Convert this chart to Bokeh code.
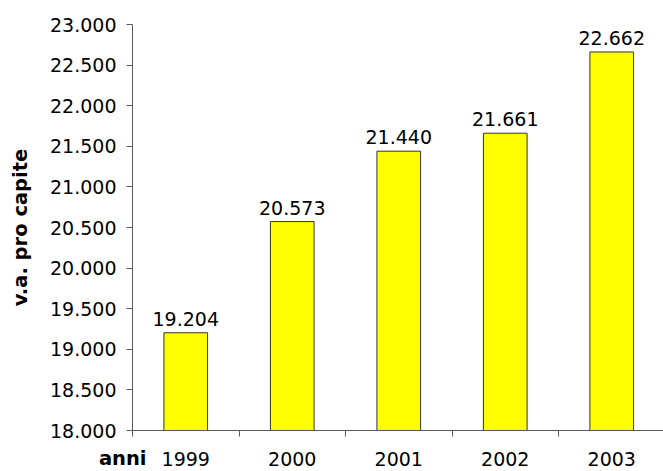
from bokeh.plotting import figure
from bokeh.models import ColumnDataSource, FixedTicker, Label, Range1d
from bokeh.core.properties import value
from bokeh.embed import file_html
from bokeh.resources import INLINE

years = ["1999", "2000", "2001", "2002", "2003"]
values = [19204, 20573, 21440, 21661, 22662]
y_ticks = [18000, 18500, 19000, 19500, 20000, 20500, 21000, 21500, 22000, 22500, 23000]
y_title = "v.a. pro capite"
x_title = "anni"

def fmt(v):
    return f"{v:,}".replace(",", ".")

xs = list(range(len(years)))
src = ColumnDataSource(dict(x=xs, top=values, label=[fmt(v) for v in values]))

FONT = "DejaVu Sans"
AXIS_COL = "#5a5a5a"

p = figure(width=663, height=471, output_backend="svg", toolbar_location=None,
           x_range=Range1d(-0.5, -0.5 + 531 / 106.5), y_range=Range1d(18000, 23000),
           min_border_left=132, min_border_right=0, min_border_top=24, min_border_bottom=41)
p.outline_line_color = None
p.grid.visible = False
p.background_fill_color = "white"
p.border_fill_color = "white"

p.vbar(x="x", top="top", bottom=18000, width=0.41, source=src,
       fill_color="#FFFF00", line_color="#333333", line_width=1)

p.text(x="x", y="top", text="label", source=src, text_align="center",
       text_baseline="alphabetic", y_offset=-14, text_font=value(FONT),
       text_font_size="19px", text_color="black")

# y axis
ya = p.yaxis[0]
ya.ticker = FixedTicker(ticks=y_ticks, minor_ticks=[])
ya.major_label_overrides = {t: fmt(t) for t in y_ticks}
ya.major_tick_in = 0
ya.major_tick_out = 6
ya.minor_tick_in = 0
ya.minor_tick_out = 0
ya.major_label_standoff = 10
ya.axis_line_color = AXIS_COL
ya.major_tick_line_color = AXIS_COL
ya.major_label_text_font = FONT
ya.major_label_text_font_size = "19px"
ya.major_label_text_color = "black"
ya.axis_label = y_title
ya.axis_label_text_font = FONT
ya.axis_label_text_font_style = "bold"
ya.axis_label_text_font_size = "19.5px"
ya.axis_label_text_color = "black"
ya.axis_label_standoff = 15

# x axis
xa = p.xaxis[0]
xa.ticker = FixedTicker(ticks=xs, minor_ticks=[i - 0.5 for i in range(len(years) + 1)])
xa.major_label_overrides = {i: y for i, y in enumerate(years)}
xa.major_tick_in = 0
xa.major_tick_out = 0
xa.minor_tick_in = 0
xa.minor_tick_out = 6
xa.minor_tick_line_color = AXIS_COL
xa.axis_line_color = AXIS_COL
xa.major_label_standoff = 15
xa.major_label_text_font = FONT
xa.major_label_text_font_size = "19px"
xa.major_label_text_color = "black"

# "anni" title placed in the (otherwise empty) top border panel so it is not clipped,
# then offset down to sit beside the year labels
p.add_layout(Label(x=14, y=-434, x_units="screen", y_units="screen", text=x_title,
                   text_align="right", text_baseline="alphabetic", text_font=FONT,
                   text_font_style="bold", text_font_size="19.5px", text_color="black"),
             "above")

open("out.html", "w").write(file_html(p, INLINE))
